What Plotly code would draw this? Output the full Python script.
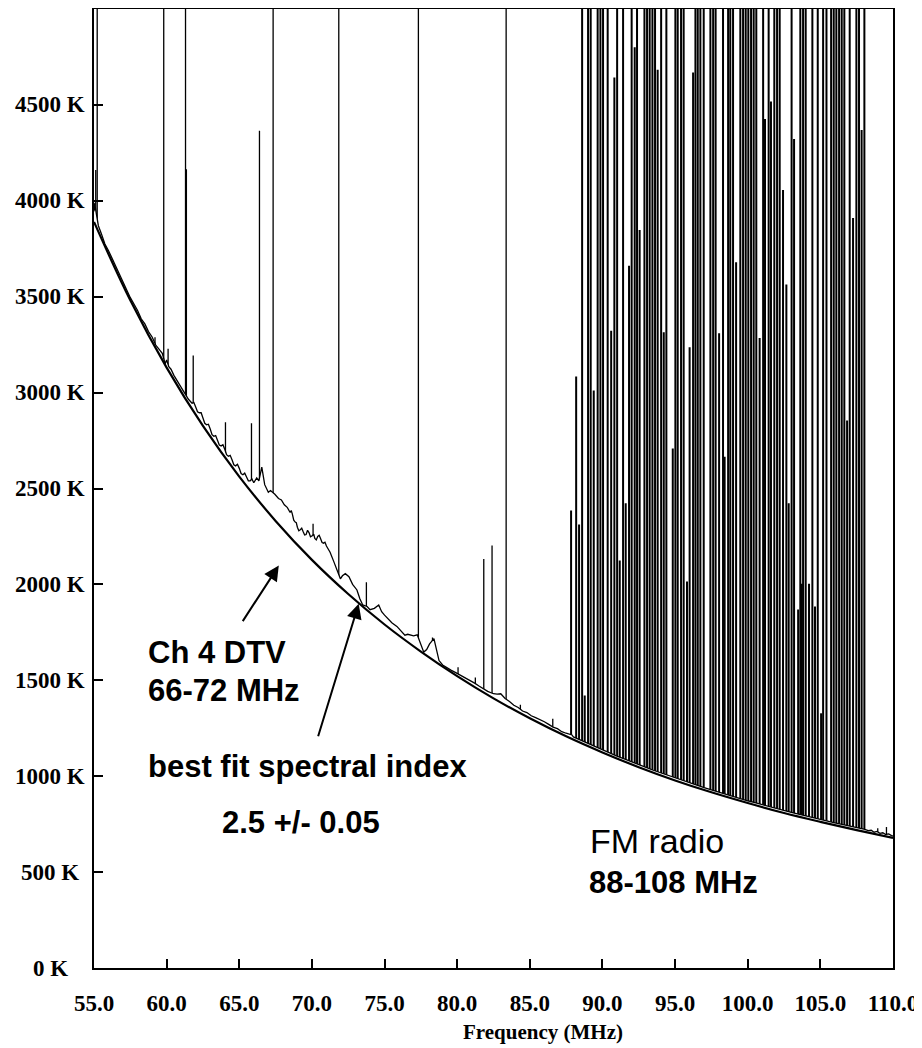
import plotly.graph_objects as go

# best-fit power law curve (K)
fit_freq = [55.0, 57.5, 60.0, 62.5, 65.0, 67.5, 70.0, 72.5, 75.0, 77.5, 80.0, 82.5,
            85.0, 87.5, 90.0, 92.5, 95.0, 97.5, 100.0, 102.5, 105.0, 107.5, 110.0]
fit_temp = [3890, 3481, 3130, 2826, 2562, 2331, 2128, 1950, 1791, 1650, 1522, 1406,
            1302, 1208, 1124, 1047, 978, 916, 860, 808, 762, 719, 678]

# measured spectrum, continuum part (K)
spec_freq = [55.00, 55.06, 55.10, 55.18, 55.30, 55.50, 55.75, 56.00, 56.25, 56.50,
             56.75, 57.00, 57.25, 57.50, 57.75, 58.00, 58.25, 58.50, 58.75, 59.00,
             59.25, 59.50, 59.70, 59.90, 60.00, 60.15, 60.30, 60.50, 60.75, 61.00,
             61.25, 61.50, 61.75, 61.875, 62.00, 62.125, 62.25, 62.375, 62.50, 62.625,
             62.75, 62.875, 63.00, 63.125, 63.25, 63.375, 63.50, 63.625, 63.75, 63.875,
             64.00, 64.125, 64.25, 64.375, 64.50, 64.625, 64.75, 64.875, 65.00, 65.125,
             65.25, 65.375, 65.50, 65.625, 65.75, 65.875, 66.00, 66.20, 66.35, 66.55,
             66.75, 67.00, 67.15, 67.45, 67.70, 67.90, 68.10, 68.30, 68.50, 68.575,
             68.65, 68.75, 68.85, 68.925, 69.00, 69.10, 69.20, 69.30, 69.40, 69.50,
             69.60, 69.70, 69.80, 69.90, 70.05, 70.125, 70.20, 70.30, 70.40, 70.50,
             70.60, 70.70, 70.80, 70.90, 71.00, 71.25, 71.50, 71.75, 71.96, 72.10,
             72.30, 72.55, 72.80, 73.10, 73.30, 73.50, 73.80, 74.00, 74.30, 74.60,
             74.80, 75.00, 75.20, 75.50, 75.85, 76.10, 76.40, 76.60, 76.80, 77.00,
             77.25, 77.45, 77.70, 77.90, 78.10, 78.40, 78.55, 78.75, 79.00, 79.30,
             79.60, 79.90, 80.20, 80.50, 80.90, 81.20, 81.50, 81.80, 82.10, 82.50,
             82.75, 83.00, 83.30, 83.60, 83.90, 84.20, 84.50, 84.80, 85.10, 85.40,
             85.70, 86.00, 86.30, 86.60, 86.90, 87.20, 87.50, 87.70, 87.90, 88.00,
             88.50, 89.00, 89.50, 90.00, 90.50, 91.00, 91.50, 92.00, 92.50, 93.00,
             93.50, 94.00, 94.50, 95.00, 95.50, 96.00, 96.50, 97.00, 97.50, 98.00,
             98.50, 99.00, 99.50, 100.00, 100.50, 101.00, 101.50, 102.00, 102.50, 103.00,
             103.50, 104.00, 104.50, 105.00, 105.50, 106.00, 106.50, 107.00, 107.50, 108.00,
             108.30, 108.50, 108.70, 108.90, 109.10, 109.30, 109.50, 109.70, 109.90, 110.00]
spec_temp = [3945, 3990, 3960, 3925, 3870, 3830, 3775, 3740, 3700, 3655,
             3612, 3572, 3536, 3495, 3462, 3428, 3385, 3358, 3318, 3290,
             3248, 3222, 3205, 3150, 3170, 3135, 3122, 3090, 3058, 3024,
             2995, 2965, 2945, 2948, 2925, 2900, 2895, 2895, 2868, 2840,
             2832, 2835, 2810, 2781, 2772, 2776, 2752, 2727, 2722, 2728,
             2705, 2676, 2668, 2673, 2650, 2624, 2618, 2626, 2605, 2578,
             2572, 2580, 2560, 2540, 2540, 2549, 2530, 2555, 2540, 2611,
             2520, 2480, 2489, 2470, 2448, 2440, 2415, 2402, 2375, 2385,
             2368, 2335, 2325, 2322, 2298, 2280, 2285, 2293, 2275, 2258,
             2260, 2282, 2270, 2248, 2255, 2262, 2240, 2232, 2250, 2256,
             2238, 2218, 2215, 2220, 2200, 2168, 2120, 2072, 2029, 2045,
             2056, 2040, 2000, 1971, 1925, 1893, 1885, 1868, 1875, 1893,
             1858, 1840, 1824, 1800, 1781, 1760, 1735, 1740, 1737, 1732,
             1737, 1700, 1647, 1660, 1690, 1717, 1660, 1603, 1580, 1565,
             1552, 1540, 1528, 1516, 1500, 1485, 1470, 1455, 1442, 1430,
             1428, 1430, 1405, 1390, 1370, 1358, 1340, 1332, 1315, 1305,
             1296, 1284, 1270, 1256, 1248, 1232, 1224, 1220, 1215, 1205,
             1188, 1170, 1152, 1136, 1121, 1105, 1090, 1074, 1060, 1046,
             1031, 1018, 1003, 990, 978, 965, 953, 940, 929, 917,
             906, 894, 884, 872, 862, 851, 841, 830, 821, 811,
             802, 792, 784, 774, 766, 757, 749, 740, 732, 724,
             716, 718, 708, 712, 702, 705, 696, 699, 690, 688]

# narrow interference lines: frequency (MHz) and peak (K); 6000 = off the top of the plot
spike_freq = [55.12, 55.22, 59.20, 59.80, 60.10, 61.30, 61.36, 61.83, 64.05, 65.84,
              66.39, 67.33, 70.08, 71.85, 73.75, 77.33, 78.30, 80.06, 81.25, 81.83,
              82.40, 83.37, 84.35, 86.58, 87.84, 88.19, 88.39, 88.60, 88.78, 89.01,
              89.19, 89.40, 89.67, 89.86, 90.04, 90.36, 90.60, 90.82, 91.01, 91.19,
              91.42, 91.60, 91.83, 92.01, 92.22, 92.38, 92.56, 92.89, 93.07, 93.25,
              93.44, 93.62, 93.80, 94.04, 94.22, 94.40, 94.84, 95.02, 95.18, 95.41,
              95.59, 95.82, 96.00, 96.24, 96.40, 96.56, 96.74, 96.97, 97.43, 97.62,
              97.79, 98.03, 98.30, 98.41, 98.65, 98.80, 98.99, 99.20, 99.49, 99.68,
              99.86, 100.04, 100.23, 100.41, 100.59, 100.82, 101.06, 101.19, 101.44, 101.60,
              101.83, 102.02, 102.20, 102.43, 102.66, 102.82, 103.02, 103.19, 103.47, 103.62,
              103.72, 103.81, 103.99, 104.22, 104.45, 104.63, 104.82, 105.05, 105.19, 105.42,
              105.74, 105.92, 106.10, 106.29, 106.47, 106.65, 106.84, 107.02, 107.25, 107.48,
              107.66, 107.84, 108.03, 108.95, 109.55]
spike_peak = [4160, 6000, 3288, 6000, 3229, 6000, 4165, 3193, 2845, 2840,
              4365, 6000, 2316, 6000, 2011, 6000, 1723, 1568, 1515, 2133,
              2203, 6000, 1372, 1300, 2385, 3084, 2312, 6000, 1421, 6000,
              6000, 3011, 6000, 6000, 6000, 6000, 3323, 4643, 6000, 2125,
              6000, 2423, 3662, 6000, 4800, 6000, 3848, 6000, 6000, 6000,
              6000, 6000, 4683, 6000, 3314, 6000, 2708, 6000, 6000, 6000,
              6000, 2015, 3236, 4669, 6000, 6000, 6000, 6000, 6000, 6000,
              6000, 3309, 6000, 2666, 6000, 6000, 6000, 3679, 6000, 6000,
              6000, 6000, 6000, 6000, 6000, 3285, 6000, 4426, 6000, 4518,
              6000, 6000, 6000, 4056, 3563, 2423, 6000, 4322, 1869, 6000,
              2004, 6000, 6000, 2004, 6000, 1885, 6000, 1328, 6000, 6000,
              6000, 6000, 6000, 6000, 6000, 6000, 2854, 6000, 3910, 6000,
              6000, 4369, 6000, 728, 735]
assert len(spike_freq) == len(spike_peak)
assert len(spec_freq) == len(spec_temp)

x_ticks = [55.0, 60.0, 65.0, 70.0, 75.0, 80.0, 85.0, 90.0, 95.0, 100.0, 105.0, 110.0]
y_ticks = [0, 500, 1000, 1500, 2000, 2500, 3000, 3500, 4000, 4500]

serif = "Liberation Serif"
sans = "Liberation Sans"

# spikes run up from zero; the white fill under the continuum hides the part below it.
# the FM band lines are drawn heavier, as in the original they are close-packed pairs
lo_x, lo_y, fm_x, fm_y = [], [], [], []
for f, p in zip(spike_freq, spike_peak):
    if f < 87.5 or f > 108.5:
        lo_x += [f, f, None]
        lo_y += [0, p, None]
    else:
        fm_x += [f, f, None]
        fm_y += [0, p, None]

fig = go.Figure()
fig.add_trace(go.Scatter(x=lo_x, y=lo_y, mode="lines", line=dict(color="black", width=1.3),
                         hoverinfo="skip"))
fig.add_trace(go.Scatter(x=fm_x, y=fm_y, mode="lines", line=dict(color="black", width=2),
                         hoverinfo="skip"))
fig.add_trace(go.Scatter(x=spec_freq, y=spec_temp, mode="lines", fill="tozeroy",
                         fillcolor="white", line=dict(color="black", width=1.3)))
fig.add_trace(go.Scatter(x=fit_freq, y=fit_temp, mode="lines",
                         line=dict(color="black", width=2.2, shape="spline")))

# the page body adds an 8px offset, so the figure is 8px smaller and margins shifted
fig.update_layout(
    width=914, height=1040,
    margin=dict(l=86, r=29, t=1, b=80),
    plot_bgcolor="white", paper_bgcolor="white",
    showlegend=False,
)
fig.update_xaxes(
    range=[55, 110], tickvals=x_ticks, ticktext=[f"{v:.1f}" for v in x_ticks],
    ticks="inside", ticklen=9, tickwidth=1.5, tickcolor="black",
    showline=True, linewidth=2, linecolor="black", mirror=True,
    showgrid=False, zeroline=False, ticklabelstandoff=13, automargin=False,
    tickfont=dict(family=serif, size=23, color="black", weight="bold"),
)
fig.update_yaxes(
    range=[0, 5000], tickvals=y_ticks, showticklabels=False,
    ticks="inside", ticklen=9, tickwidth=1.5, tickcolor="black",
    showline=True, linewidth=2, linecolor="black", mirror=True,
    showgrid=False, zeroline=False, automargin=False,
)

# y tick labels are centred in the original, so they go in as annotations
for v in y_ticks:
    fig.add_annotation(x=-0.055, xref="paper", y=v, yref="y", text=f"{v} K",
                       showarrow=False, xanchor="center", yanchor="middle",
                       font=dict(family=serif, size=23, color="black", weight="bold"))

fig.add_annotation(x=0.6646, xref="paper", y=-0.0667, yref="paper", text="Frequency (MHz)",
                   showarrow=False, xanchor="right", yanchor="middle",
                   font=dict(family=serif, size=21, color="black", weight="bold"))

bold = dict(family=sans, size=31, color="black", weight="bold")
labels = [
    ("Ch 4 DTV", 58.58, 1646, bold),
    ("66-72 MHz", 58.58, 1448, bold),
    ("best fit spectral index", 58.58, 1052, bold),
    ("2.5 +/- 0.05", 63.67, 760, bold),
    ("FM radio", 89.0, 660, dict(family=sans, size=34, color="black")),
    ("88-108 MHz", 88.94, 448, bold),
]
for txt, x, y, fnt in labels:
    fig.add_annotation(x=x, y=y, text=txt, showarrow=False, xanchor="left",
                       yanchor="middle", font=fnt)

# arrows
fig.add_annotation(x=67.72, y=2098, ax=-37, ay=57, text="", showarrow=True,
                   arrowhead=2, arrowsize=1.5, arrowwidth=2, arrowcolor="black")
fig.add_annotation(x=73.22, y=1899, ax=-41, ay=134, text="", showarrow=True,
                   arrowhead=2, arrowsize=1.5, arrowwidth=2, arrowcolor="black")

fig.write_html("out.html")
